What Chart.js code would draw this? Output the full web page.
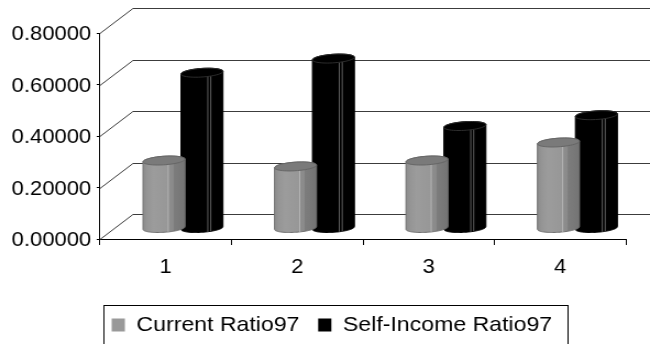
<!DOCTYPE html>
<html>
<head>
<meta charset="utf-8">
<script src="https://cdn.jsdelivr.net/npm/chart.js@4"></script>
<style>
  html, body { margin: 0; padding: 0; background: #fff; overflow: hidden; }
  /* the chart is laid out on a narrower canvas and widened, giving the broad lettering */
  #wrap { width: 591px; height: 344px; transform: scaleX(1.0998); transform-origin: 0 0; }
</style>
</head>
<body>
<div id="wrap"><canvas id="chart"></canvas></div>
<script>
// ---- data ----
const categories = ['1', '2', '3', '4'];
const seriesNames = ['Current Ratio97', 'Self-Income Ratio97'];
const currentRatio97 = [0.264, 0.241, 0.264, 0.334];
const selfIncomeRatio97 = [0.605, 0.660, 0.398, 0.440];
const yMin = 0;
const yMax = 0.8;
const yStep = 0.2;

// ---- look of the 3-D box ----
const DEPTH_X = 30;     // horizontal run of the floor, front to back
const DEPTH_Y = -25;    // vertical rise of the floor, front to back
const COL_SHIFT_X = 15.7; // where the columns stand on the floor
const COL_SHIFT_Y = -10.5;
const CAP_RY = 4.5;     // vertical radius of the column ends
const CAP_SKEW = 0.3;   // slant of the column ends

const looks = [
  { stops: [[0, '#8b8b8b'], [0.1, '#959595'], [0.25, '#9c9c9c'], [0.59, '#979797'],
            [0.6, '#8e8e8e'], [0.72, '#8a8a8a'], [0.73, '#7d7d7d'], [1, '#747474']],
    lines: [[0.6, '#b4b4b4']], edge: '#707070', top: '#7a7a7a', topEdge: '#666666' },
  { stops: [[0, '#000'], [1, '#000']],
    lines: [[0.64, '#5e5e5e'], [0.71, '#5e5e5e']], edge: '#000', top: '#000', topEdge: '#2e2e2e' }
];

function drawColumn(ctx, cx, yTop, yBase, hw, look) {
  const px = hw * CAP_SKEW;
  const rx = Math.sqrt(hw * hw - px * px);
  const a = Math.atan2(px, rx);
  const pt = (cy, th) => [cx + hw * Math.cos(th - a), cy - CAP_RY * Math.sin(th)];
  const N = 48;

  // body outline: back half of the top end, front half of the foot
  ctx.beginPath();
  for (let i = 0; i <= N; i++) {
    const [x, y] = pt(yTop, Math.PI + a - Math.PI * i / N);
    if (i === 0) ctx.moveTo(x, y); else ctx.lineTo(x, y);
  }
  for (let i = 0; i <= N; i++) {
    const [x, y] = pt(yBase, a - Math.PI * i / N);
    ctx.lineTo(x, y);
  }
  ctx.closePath();
  const g = ctx.createLinearGradient(cx - hw, 0, cx + hw, 0);
  look.stops.forEach(s => g.addColorStop(s[0], s[1]));
  ctx.fillStyle = g;
  ctx.fill();
  ctx.lineWidth = 1;
  ctx.strokeStyle = look.edge;
  ctx.stroke();

  // facet edges down the front
  look.lines.forEach(([f, col]) => {
    const th = a - Math.acos(2 * f - 1);
    const [x1, y1] = pt(yTop, th);
    const [x2, y2] = pt(yBase, th);
    ctx.beginPath();
    ctx.moveTo(x1, y1);
    ctx.lineTo(x2, y2);
    ctx.strokeStyle = col;
    ctx.stroke();
  });

  // top end
  ctx.beginPath();
  for (let i = 0; i <= N; i++) {
    const [x, y] = pt(yTop, 2 * Math.PI * i / N);
    if (i === 0) ctx.moveTo(x, y); else ctx.lineTo(x, y);
  }
  ctx.closePath();
  ctx.fillStyle = look.top;
  ctx.fill();
  ctx.strokeStyle = look.topEdge;
  ctx.stroke();
}

const boxPlugin = {
  id: 'box3d',
  afterLayout(chart) {
    // centre the legend row under the plot rather than the whole canvas
    chart.legend.left += 29.5;
  },
  beforeDatasetsDraw(chart) {
    const { ctx, chartArea: area, scales: { y } } = chart;
    ctx.save();
    ctx.strokeStyle = '#3c3c3c';
    ctx.lineWidth = 1;
    y.ticks.forEach(t => {
      const py = Math.round(y.getPixelForValue(t.value)) + 0.5;
      ctx.beginPath();
      ctx.moveTo(area.left, py);
      ctx.lineTo(area.left + DEPTH_X, py + DEPTH_Y);
      ctx.lineTo(chart.width, py + DEPTH_Y);
      ctx.stroke();
    });
    ctx.restore();
  },
  beforeDatasetDraw(chart, args) {
    const { ctx } = chart;
    const look = looks[args.index];
    ctx.save();
    args.meta.data.forEach(el => {
      const hw = el.width / 2 * 1.107;
      drawColumn(ctx, el.x + COL_SHIFT_X, el.y + COL_SHIFT_Y, el.base + COL_SHIFT_Y, hw, look);
    });
    ctx.restore();
    return false;
  },
  afterDraw(chart) {
    const { ctx } = chart;
    const hb = chart.legend.legendHitBoxes;
    if (!hb || !hb.length) return;
    const first = hb[0], last = hb[hb.length - 1];
    const left = Math.round(first.left - 8) + 0.5;
    const right = Math.round(last.left + last.width + 14) + 0.5;
    const top = Math.round(first.top + first.height / 2 - 20) + 0.5;
    ctx.save();
    ctx.strokeStyle = '#000';
    ctx.lineWidth = 1;
    ctx.strokeRect(left, top, right - left, chart.height + 10 - top);
    ctx.restore();
  }
};

Chart.defaults.color = '#000';
Chart.defaults.font.family = '"Liberation Sans", Arial, sans-serif';

new Chart(document.getElementById('chart'), {
  type: 'bar',
  data: {
    labels: categories,
    datasets: [
      { label: seriesNames[0], data: currentRatio97, backgroundColor: '#999999', borderWidth: 0,
        categoryPercentage: 0.577, barPercentage: 1 },
      { label: seriesNames[1], data: selfIncomeRatio97, backgroundColor: '#000000', borderWidth: 0,
        categoryPercentage: 0.577, barPercentage: 1 }
    ]
  },
  options: {
    responsive: true,
    maintainAspectRatio: false,
    animation: false,
    events: [],
    layout: { padding: { left: 5, right: 21.9, top: 33, bottom: -1.5 } },
    plugins: {
      tooltip: { enabled: false },
      legend: {
        position: 'bottom',
        align: 'center',
        labels: { font: { size: 21 }, boxWidth: 12, boxHeight: 13, padding: 17, color: '#000' }
      }
    },
    scales: {
      x: {
        offset: true,
        grid: { display: true, drawOnChartArea: false, offset: true, tickLength: 6, color: '#000' },
        border: { display: true, color: '#000' },
        ticks: { font: { size: 20 }, padding: 10, maxRotation: 0, autoSkip: false },
        afterFit: s => { s.height = 58.5; }
      },
      y: {
        min: yMin,
        max: yMax,
        grid: { display: true, drawOnChartArea: false, tickLength: 3, color: '#000' },
        border: { display: true, color: '#000' },
        ticks: {
          stepSize: yStep,
          font: { size: 20 },
          padding: 5,
          labelOffset: 1.5,
          callback: v => Number(v).toFixed(5)
        },
        afterFit: s => { s.width = 85.9; }
      }
    }
  },
  plugins: [boxPlugin]
});
</script>
</body>
</html>
